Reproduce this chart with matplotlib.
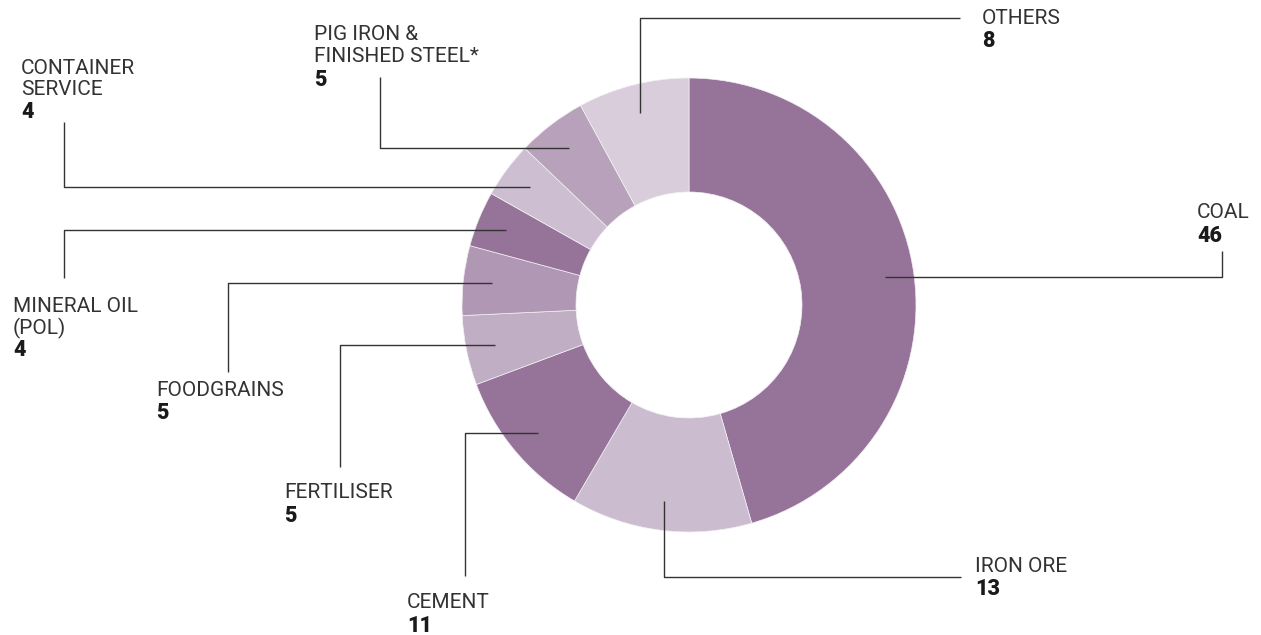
import numpy as np
import matplotlib
matplotlib.use("Agg")
import matplotlib.pyplot as plt

# ---- data ----
categories = ["COAL", "IRON ORE", "CEMENT", "FERTILISER", "FOODGRAINS",
              "MINERAL OIL\n(POL)", "CONTAINER\nSERVICE",
              "PIG IRON &\nFINISHED STEEL*", "OTHERS"]
values = [46, 13, 11, 5, 5, 4, 4, 5, 8]
colors = ["#96749a", "#cbbdcf", "#96749a", "#c0aec4", "#b098b4",
          "#96749a", "#cdbfd1", "#b8a1bb", "#d9cddc"]

# ---- layout (pixel space) ----
W, H = 1261, 635
CX, CY = 689, 305
R_OUT, R_IN = 227, 113
ANCHOR_R = 198
# text block top-left positions (cap top)
text_pos = [(1197, 205), (975, 558), (407, 595), (284, 485), (156, 382),
            (13, 298), (21, 60), (314, 27), (982, 10)]
# leader style: ('h', elbow_x, end_y) horizontal first; ('v', end_y, end_x) vertical first
leaders = [('h', 1222, 251), ('v', 577, 961), ('h', 465, 576), ('h', 340, 467),
           ('h', 228, 372), ('h', 64, 278), ('h', 64, 122), ('h', 380, 77),
           ('v', 18, 960)]
LINE_H = 21.5

fig = plt.figure(figsize=(W / 100, H / 100), dpi=100)
ax = fig.add_axes([0, 0, 1, 1])
wedges, _ = ax.pie(values, colors=colors, center=(CX, CY), radius=R_OUT,
                   startangle=-90, counterclock=True,
                   wedgeprops=dict(width=R_OUT - R_IN, linewidth=0.5, edgecolor="#f4f0f4"),
                   frame=True)
ax.set_xlim(0, W)
ax.set_ylim(H, 0)
ax.set_aspect("equal")
ax.axis("off")

name_font = dict(family=["Roboto", "DejaVu Sans"], weight="normal", size=15, color="#333333")
num_font = dict(family=["Roboto", "DejaVu Sans"], weight="black", size=15.5, color="#1a1a1a")

for w, cat, val, (tx, ty), ld in zip(wedges, categories, values, text_pos, leaders):
    mid = np.deg2rad((w.theta1 + w.theta2) / 2)
    ax_ = CX + ANCHOR_R * np.cos(mid)
    ay_ = CY + ANCHOR_R * np.sin(mid)
    if ld[0] == 'h':
        xs = [ax_, ld[1], ld[1]]
        ys = [ay_, ay_, ld[2]]
    else:
        xs = [ax_, ax_, ld[2]]
        ys = [ay_, ld[1], ld[1]]
    ax.plot(xs, ys, color="#333333", lw=1.0, solid_capstyle="butt", zorder=3)
    lines = cat.split("\n")
    for i, ln in enumerate(lines):
        ax.text(tx, ty - 1.5 + i * LINE_H, ln, va="top", ha="left", **name_font)
    ax.text(tx, ty - 1.5 + len(lines) * LINE_H, str(val), va="top", ha="left", **num_font)

fig.savefig("out.png", dpi=100)
